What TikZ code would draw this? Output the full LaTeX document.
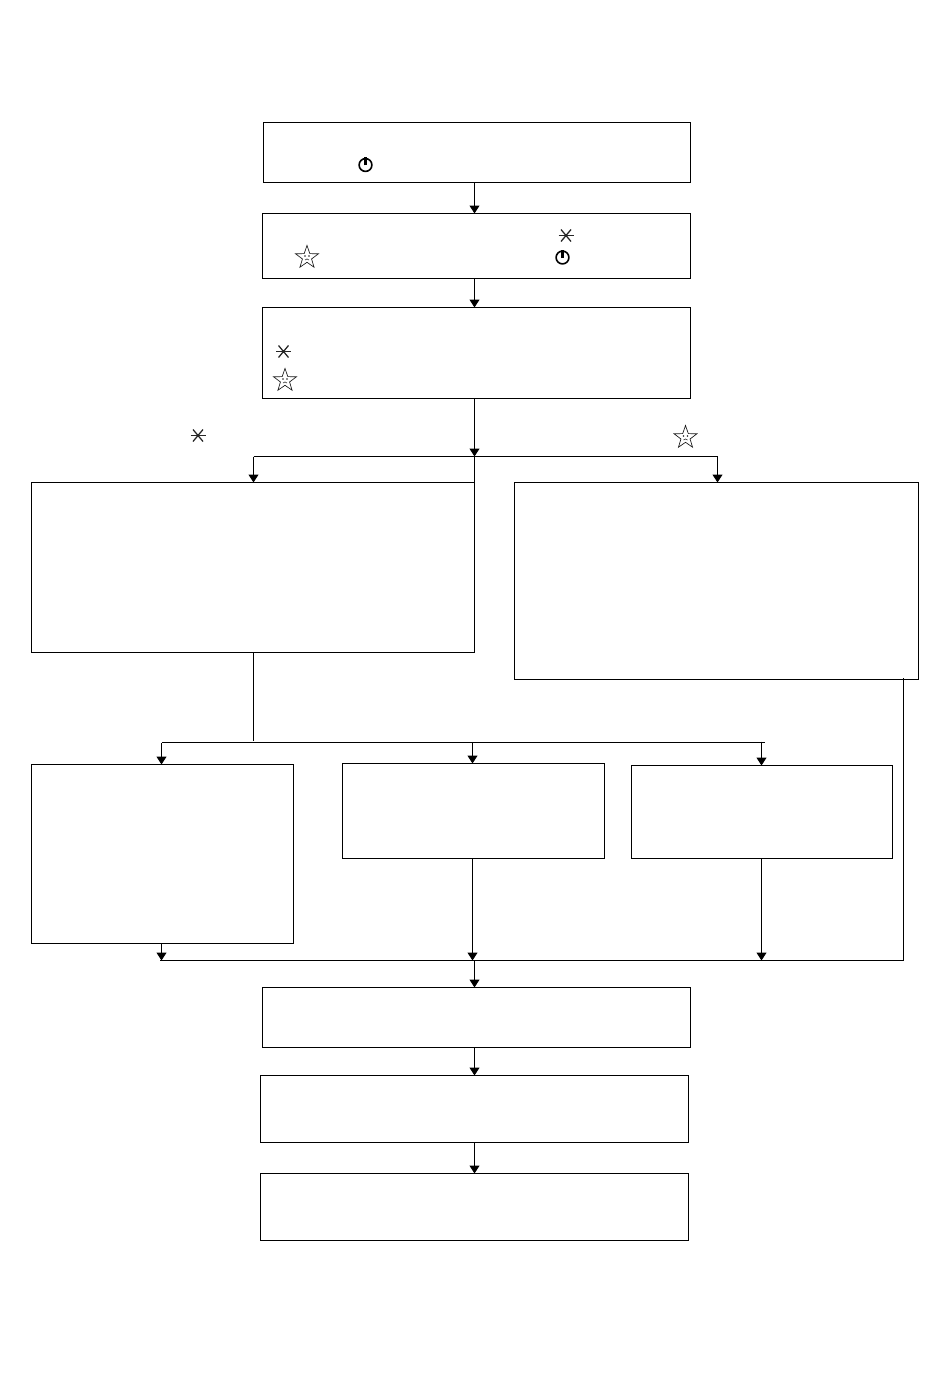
\documentclass[tikz,border=0pt]{standalone}
\usetikzlibrary{arrows.meta,shapes.geometric}
\tikzset{
  x=0.75pt,y=-0.75pt,
  flowbox/.style={draw=black,line width=0.8pt,rectangle,inner sep=0pt,outer sep=0pt,fill=none},
  link/.style={draw=black,line width=0.8pt},
  arrowlink/.style={link,-{Triangle[length=6pt,width=7.5pt]}},
  powerpic/.pic={
    \draw[line width=1.2pt] (0,0) circle[radius=6.4];
    \draw[line width=2pt] (0,0.5) -- (0,-8);
  },
  asterpic/.pic={
    \draw[line width=0.6pt,black!85] (-7.5,0) -- (7.5,0);
    \draw[line width=0.95pt,black!85] (-5,-6) -- (5,6) (5,-6) -- (-5,6);
  },
  starpic/.pic={
    \node[draw=black!90,line width=0.5pt,star,star points=5,star point ratio=2.5,minimum size=18pt,inner sep=0pt,outer sep=0pt] at (0,0.5) {};
    \fill[black!85] (-2,-1) circle[radius=0.8] (2,-1) circle[radius=0.8];
    \draw[black!85,line width=0.45pt] (-2,3) .. controls (-1,1.6) and (1,1.6) .. (2,3);
  }
}
\newcommand{\flowrect}[5]{%
  \pgfmathsetmacro{\cxv}{(#2+#4)/2}\pgfmathsetmacro{\cyv}{(#3+#5)/2}%
  \pgfmathsetmacro{\wv}{(#4-#2)*0.75}\pgfmathsetmacro{\hv}{(#5-#3)*0.75}%
  \node[flowbox,minimum width=\wv pt,minimum height=\hv pt] (#1) at (\cxv,\cyv) {};}
\begin{document}
\begin{tikzpicture}
\useasboundingbox[fill=white] (0,0) rectangle (950,1391);
\flowrect{a}{263.5}{122.5}{690.5}{182.5}
\flowrect{b}{262.5}{213.5}{690.5}{278.5}
\flowrect{c}{262.5}{307.5}{690.5}{398.5}
\flowrect{d}{31.5}{482.5}{474.5}{652.5}
\flowrect{e}{514.5}{482.5}{918.5}{679.5}
\flowrect{f}{31.5}{764.5}{293.5}{943.5}
\flowrect{g}{342.5}{763.5}{604.5}{858.5}
\flowrect{h}{631.5}{765.5}{892.5}{858.5}
\flowrect{i}{262.5}{987.5}{690.5}{1047.5}
\flowrect{j}{260.5}{1075.5}{688.5}{1142.5}
\flowrect{k}{260.5}{1173.5}{688.5}{1240.5}
% junctions
\coordinate (topbusL) at (253.5,456.5);
\coordinate (topbusR) at (717.5,456.5);
\coordinate (topbusM) at (474.5,456.5);
\coordinate (dR) at (474.5,482.5);
\coordinate (dDrop) at (253.5,741);
\coordinate (midL) at (162,742.5);
\coordinate (midR) at (765,742.5);
\coordinate (midA) at (161.5,742.5);
\coordinate (midB) at (472.5,742.5);
\coordinate (midC) at (761.5,741.5);
\coordinate (botL) at (160,960.5);
\coordinate (botR) at (903.5,960.5);
\coordinate (botB) at (472.5,960.5);
\coordinate (botC) at (761.5,960.5);
\coordinate (botM) at (474.5,960.5);
\coordinate (eTap) at (903.5,678);
% chain
\draw[arrowlink] (a.south -| topbusM) -- (b.north -| topbusM);
\draw[arrowlink] (b.south -| topbusM) -- (c.north -| topbusM);
\draw[arrowlink] (c.south -| topbusM) -- (topbusM);
\draw[link] (topbusM) -- (dR);
\draw[link] (topbusL) -- (topbusR);
\draw[arrowlink] (topbusL) -- (topbusL |- d.north);
\draw[arrowlink] (topbusR) -- (topbusR |- e.north);
\draw[link] (d.south -| dDrop) -- (dDrop);
\draw[link] (midL) -- (midR);
\draw[arrowlink] (midA) -- (midA |- f.north);
\draw[arrowlink] (midB) -- (midB |- g.north);
\draw[arrowlink] (midC) -- (midC |- h.north);
\draw[arrowlink] (f.south -| midA) -- (midA |- botL);
\draw[arrowlink] (g.south -| botB) -- (botB);
\draw[arrowlink] (h.south -| botC) -- (botC);
\draw[link] (botL) -- (botR);
\draw[link] (eTap) -- (botR);
\draw[arrowlink] (botM) -- (botM |- i.north);
\draw[arrowlink] (i.south -| botM) -- (botM |- j.north);
\draw[arrowlink] (j.south -| botM) -- (botM |- k.north);
% icons
\pic at (365.5,165) {powerpic};
\pic at (562.5,257.5) {powerpic};
\pic at (566,235.5) {asterpic};
\pic at (283.5,351.5) {asterpic};
\pic at (198,435.5) {asterpic};
\pic at (307,257) {starpic};
\pic at (285,380) {starpic};
\pic at (685.5,437) {starpic};
\end{tikzpicture}
\end{document}
